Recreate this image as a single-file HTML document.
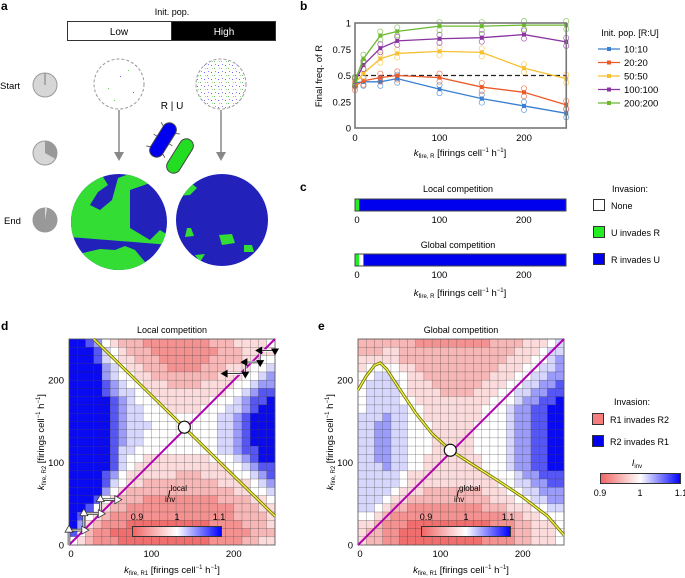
<!DOCTYPE html>
<html><head><meta charset="utf-8"><style>
body{margin:0;background:#fff}
svg{display:block;font-family:"Liberation Sans",Arial,sans-serif}
</style></head><body>
<svg id="fig" width="685" height="578" viewBox="0 0 685 578">
<defs>
<pattern id="dots" width="7" height="7" patternUnits="userSpaceOnUse">
<rect x="1" y="2" width="1" height="1" fill="#66f"/><rect x="4" y="5" width="1" height="1" fill="#6c6"/><rect x="5" y="1" width="1" height="1" fill="#88f"/><rect x="2" y="5" width="1" height="1" fill="#9d9"/>
</pattern>
<clipPath id="cl1"><circle cx="119" cy="222" r="48"/></clipPath>
<clipPath id="cl2"><circle cx="222" cy="220" r="46"/></clipPath>
<linearGradient id="cbar" x1="0" x2="1"><stop offset="0" stop-color="rgb(240,100,100)"/><stop offset="0.5" stop-color="#fff"/><stop offset="1" stop-color="#0000ff"/></linearGradient>
</defs>

<!-- Panel a -->
<g>
<text x="1" y="10" font-size="12" font-weight="bold">a</text>
<text x="172" y="15" font-size="9" text-anchor="middle">Init. pop.</text>
<rect x="67.5" y="21.5" width="104" height="19" fill="#fff" stroke="#333"/>
<rect x="171.5" y="21.5" width="104" height="19" fill="#000" stroke="#333"/>
<text x="119" y="35" font-size="10" text-anchor="middle">Low</text>
<text x="224" y="35" font-size="10" text-anchor="middle" fill="#fff">High</text>
<text x="0" y="89" font-size="9.5">Start</text>
<text x="4" y="224" font-size="9.5">End</text>
<g><circle cx="45" cy="85" r="12" fill="#d6d6d6" stroke="#999"/><line x1="45" y1="85" x2="45" y2="73" stroke="#888" stroke-width="1.2"/></g>
<g><circle cx="45" cy="153" r="12" fill="#d6d6d6" stroke="#999"/><path d="M45 153 L45 141 A12 12 0 0 1 55.4 159 Z" fill="#999"/></g>
<g><circle cx="45" cy="220" r="12" fill="#999" stroke="#999"/><path d="M45 220 L45 208 A12 12 0 0 1 47 208.2 Z" fill="#ddd"/></g>
<circle cx="119" cy="84" r="25" fill="#fff" stroke="#999" stroke-dasharray="3 2"/>
<circle cx="221" cy="84" r="25" fill="url(#dots)" stroke="#999" stroke-dasharray="3 2"/>
<g fill="#6c6"><rect x="108" y="88" width="1" height="1"/><rect x="128" y="70" width="1" height="1"/><rect x="114" y="100" width="1" height="1"/></g>
<g fill="#66f"><rect x="120" y="76" width="1" height="1"/><rect x="133" y="92" width="1" height="1"/></g>
<g stroke="#888" stroke-width="1.5">
<line x1="119" y1="110" x2="119" y2="153"/><line x1="221" y1="110" x2="221" y2="153"/></g>
<path d="M114 152 L124 152 L119 161 Z M216 152 L226 152 L221 161 Z" fill="#888"/>
<text x="172" y="109" font-size="10" text-anchor="middle">R | U</text>
<g transform="translate(163 140) rotate(-58)">
<rect x="-19" y="-7" width="38" height="14" rx="7" fill="#0000ee" stroke="#444"/>
<g stroke="#444" stroke-width="0.8"><line x1="-12" y1="-7" x2="-14" y2="-11"/><line x1="0" y1="-7" x2="0" y2="-11"/><line x1="12" y1="-7" x2="14" y2="-11"/><line x1="-12" y1="7" x2="-14" y2="11"/><line x1="0" y1="7" x2="0" y2="11"/><line x1="12" y1="7" x2="14" y2="11"/></g></g>
<rect x="-19" y="-7" width="38" height="14" rx="7" fill="#22dd22" stroke="#444" transform="translate(180 156) rotate(-58)"/>
<g clip-path="url(#cl1)">
<rect x="60" y="170" width="120" height="110" fill="#2222bb"/>
<path d="M70 175 L100 172 L108 185 L98 192 L90 205 L100 210 L112 200 L118 178 L140 170 L150 183 L130 190 L130 228 L150 240 L160 230 L175 240 L170 245 L70 237 Z" fill="#33dd33"/>
<path d="M70 256 L100 249 L115 250 L125 246 L135 250 L145 262 L160 270 L60 290 Z" fill="#33dd33"/>
</g>
<g clip-path="url(#cl2)">
<rect x="170" y="170" width="110" height="100" fill="#2222bb"/>
<path d="M178 185 L190 182 L197 188 L190 195 L176 196 Z" fill="#33dd33"/>
<path d="M219 235 L232 234 L235 243 L222 245 Z M244 245 L252 245 L254 252 L244 252 Z M187 228 L191 228 L194 236 L185 237 Z M195 255 L205 254 L200 262 Z" fill="#33dd33"/>
</g>
</g>

<!-- Panel b -->
<g id="pb">
<text x="300" y="10" font-size="12" font-weight="bold">b</text>
<text transform="translate(322 76) rotate(-90)" font-size="9.5" text-anchor="middle">Final freq. of R</text>
<text x="460" y="156" font-size="9.5" text-anchor="middle"><tspan font-style="italic">k</tspan><tspan font-size="6" dy="2">fire, R</tspan><tspan dy="-2"> [firings cell</tspan><tspan font-size="6" dy="-4">−1</tspan><tspan dy="4"> h</tspan><tspan font-size="6" dy="-4">−1</tspan><tspan dy="4">]</tspan></text>
<text x="630" y="36" font-size="9" text-anchor="middle">Init. pop. [R:U]</text>
</g>

<!-- Panel c -->
<g id="pc">
<text x="300" y="191" font-size="12" font-weight="bold">c</text>
<text x="458" y="192" font-size="9" text-anchor="middle">Local competition</text>
<text x="458" y="248" font-size="9" text-anchor="middle">Global competition</text>
<text x="460" y="296" font-size="9.5" text-anchor="middle"><tspan font-style="italic">k</tspan><tspan font-size="6" dy="2">fire, R</tspan><tspan dy="-2"> [firings cell</tspan><tspan font-size="6" dy="-4">−1</tspan><tspan dy="4"> h</tspan><tspan font-size="6" dy="-4">−1</tspan><tspan dy="4">]</tspan></text>
<text x="630" y="192" font-size="9" text-anchor="middle">Invasion:</text>
<rect x="593.5" y="199.5" width="11" height="11" fill="#fff" stroke="#333"/>
<text x="611" y="209" font-size="9">None</text>
<rect x="593.5" y="226.5" width="11" height="11" fill="#22ee22" stroke="#333"/>
<text x="611" y="236" font-size="9">U invades R</text>
<rect x="593.5" y="253.5" width="11" height="11" fill="#0000ee" stroke="#333"/>
<text x="611" y="263" font-size="9">R invades U</text>
</g>

<!-- Panel d/e static -->
<text x="1" y="330" font-size="12" font-weight="bold">d</text>
<text x="318" y="330" font-size="12" font-weight="bold">e</text>
<text x="172" y="333" font-size="9" text-anchor="middle">Local competition</text>
<text x="461" y="333" font-size="9" text-anchor="middle">Global competition</text>
<g>
<text x="632" y="405" font-size="9" text-anchor="middle">Invasion:</text>
<rect x="592.5" y="413.5" width="11" height="11" fill="rgb(245,125,125)" stroke="#333"/>
<text x="610" y="423" font-size="9">R1 invades R2</text>
<rect x="592.5" y="435.5" width="11" height="11" fill="#0000ee" stroke="#333"/>
<text x="610" y="445" font-size="9">R2 invades R1</text>
<text x="637" y="466" font-size="9" font-style="italic" text-anchor="middle">I<tspan font-size="6" font-style="normal" dy="2">inv</tspan></text>
<rect x="600.5" y="473.5" width="80" height="10" fill="url(#cbar)" stroke="#333"/>
<text x="600" y="496" font-size="9" text-anchor="middle">0.9</text>
<text x="640" y="496" font-size="9" text-anchor="middle">1</text>
<text x="681" y="496" font-size="9" text-anchor="middle">1.1</text>
</g>
</svg>
<script>
const NS="http://www.w3.org/2000/svg";
const svg=document.getElementById('fig');
// ---- Panel b data ----
const bX=[0,10,30,50,100,150,200,250];
const bSeries=["10:10","20:20","50:50","100:100","200:200"];
const bColors=["#3a7fd0","#ea5a2a","#f6c030","#8a34a0","#6cb830"];
const b1010=[0.43,0.44,0.44,0.47,0.37,0.28,0.21,0.14];
const b2020=[0.40,0.45,0.48,0.50,0.48,0.39,0.34,0.22];
const b5050=[0.43,0.52,0.66,0.71,0.73,0.72,0.57,0.47];
const b100100=[0.44,0.60,0.76,0.83,0.85,0.86,0.89,0.82];
const b200200=[0.45,0.66,0.88,0.92,0.97,0.97,0.98,0.98];
const bYTicks=[0,0.25,0.5,0.75,1];
const bYTickLabels=["0","0.25","0.5","0.75","1"];
const bXTicks=[0,100,200];
// ---- Panel c data ----
const cCategories=["U invades R","None","R invades U"];
const cLocal=[[0,5,0],[5,250,2]];   // [start,end,category]
const cGlobal=[[0,5,0],[5,10,1],[10,250,2]];
// ---- Heatmap data (levels 0..8 -> 0.9..1.1), rows top (k=245) to bottom (k=5) ----
const dRows=["8876432221111111122233334","8887543222111111112223333","8887543322211111122223344","8888654332221111222333445","8888654433222222223334456","8888765443332222333344566","8888765544333333333445677","8888876544433333344456778","8888876554443333444556788","8888876554444444445567888","8888876555444444445567888","8888876554444444445567888","8888876554444444445567888","8888875544444444445567788","8888875443333333344456788","8888875433333333333445677","8888764333333222333344567","8888754332222222223333456","8888643222222222222233445","8887432221111111112222334","8874322111111111111122233","8743211111111111111122223","8632111000000000011112223","7421100000000000001111222","4321110000000000011112233"];
const eRows=["2222222111111111222233345","2223322222222222222333455","3333322222222222223334456","3444433222222222233344556","4455443322222222333445566","4555543332222223334455667","4555543333222233344556677","4555544333333333444566778","4555554433333334445667788","5556554433333334445667788","5566554443333344445667788","5566554443333344445667788","5566554443333344445667788","5566554443333344445667788","5566554433333334445667788","5556554433333334445667788","5555543333333333444566777","5555543333333333344556677","5555433322222223334455666","5554332222222222333445566","5543221111111112223334455","4432111111111111112233444","3321110000000000111223334","3221100000000001111223334","3221100000000001111223334"];
const eCurveX=[0,10,20,27,35,50,70,90,112,140,170,200,230,250];
const eCurveY=[188,205,218,221,213,190,160,135,115,97,78,58,35,12];
const dLineX=[30,250], dLineY=[250,35];
const dEss=[140,143], eEss=[112,115];
const hmTicks=[0,100,200];

function mk(tag,attrs,parent){const e=document.createElementNS(NS,tag);for(const k in attrs)e.setAttribute(k,attrs[k]);(parent||svg).appendChild(e);return e;}

// ---- draw b ----
const bx=v=>355+v*0.845, by=v=>128-v*105;
const gb=mk('g',{});


bYTicks.forEach((t,i)=>{const tx=mk('text',{x:351,y:by(t)+3.5,'font-size':9.5,'text-anchor':'end'},gb);tx.textContent=bYTickLabels[i];

});
bXTicks.forEach(t=>{const tx=mk('text',{x:bx(t),y:141,'font-size':9.5,'text-anchor':'middle'},gb);tx.textContent=t;

});
const dash=mk('line',{x1:bx(0),x2:bx(250),y1:by(0.5),y2:by(0.5),stroke:'#222','stroke-dasharray':'5 3','stroke-width':1.2},gb);


[b1010,b2020,b5050,b100100,b200200].forEach((vals,si)=>{
  const pts=vals.map((v,i)=>bx(bX[i])+','+by(v)).join(' ');
  const pl=mk('polyline',{points:pts,fill:'none',stroke:bColors[si],'stroke-width':1.3},gb);
  
  
  vals.forEach((v,i)=>{
    mk('circle',{cx:bx(bX[i]),cy:by(v)+4,r:2.6,fill:'none',stroke:bColors[si],'stroke-width':0.7,opacity:0.8},gb);
    mk('circle',{cx:bx(bX[i]),cy:by(v)-4,r:2.6,fill:'none',stroke:bColors[si],'stroke-width':0.7,opacity:0.8},gb);
    const p=mk('rect',{x:bx(bX[i])-2,y:by(v)-2,width:4,height:4,fill:bColors[si]},gb);
    
    
  });
  const ly=49+si*13.5;
  const le=mk('g',{},gb);
  
  
  mk('line',{x1:598,x2:620,y1:ly,y2:ly,stroke:bColors[si],'stroke-width':1.3},le);
  mk('rect',{x:607,y:ly-2,width:4,height:4,fill:bColors[si]},le);
  const t=mk('text',{x:624,y:ly+3.5,'font-size':9.5},le);t.textContent=bSeries[si];
});
const frame=mk('rect',{x:355,y:by(1),width:bx(250)-355,height:by(0)-by(1),fill:'none',stroke:'#777','stroke-width':1.6},gb);



// ---- draw c ----
const cColors=["#22ee22","#ffffff","#0000ee"];
const cx=v=>355+v*0.844;
function cbar(segs,y0,name){
  const g=mk('g',{});
  
  
  segs.forEach(s=>{const r=mk('rect',{x:cx(s[0]),y:y0,width:cx(s[1])-cx(s[0]),height:12,fill:cColors[s[2]]},g);
    
    });
  mk('rect',{x:cx(0),y:y0,width:cx(250)-cx(0),height:12,fill:'none',stroke:'#444','stroke-width':1},g);
  hmTicks.forEach(t=>{const tx=mk('text',{x:cx(t)+(t===0?2:0),y:y0+24,'font-size':9.5,'text-anchor':'middle'},g);tx.textContent=t;});
}
cbar(cLocal,199,'c-local-bar');
cbar(cGlobal,254,'c-global-bar');

// ---- heatmaps ----
function color(v){
  if(v<=1){const f=(1-v)/0.1;return `rgb(${Math.round(255-15*f)},${Math.round(255-145*f)},${Math.round(255-145*f)})`;}
  const f=Math.pow((v-1)/0.1,1.3);return `rgb(${Math.round(255-245*f)},${Math.round(255-245*f)},${Math.round(255-15*f)})`;
}
function heat(rows,x0,name,label,lineFn,ess,arrows){
  const sx=v=>x0+v*0.824, sy=v=>545-v*0.824;
  const g=mk('g',{});
  
  
  rows.forEach((row,ri)=>{
    const kY=250-ri*10;
    for(let ci=0;ci<row.length;ci++){
      const v=0.9+(+row[ci])*0.025;
      const c=mk('rect',{x:sx(ci*10),y:sy(kY),width:sx(10)-sx(0)+0.05,height:sy(0)-sy(10)+0.05,fill:color(v),stroke:'rgba(50,50,50,0.4)','stroke-width':0.5},g);
      
      
    }
  });
  mk('rect',{x:sx(0),y:sy(250),width:sx(250)-sx(0),height:sy(0)-sy(250),fill:'none',stroke:'#555','stroke-width':0.8},g);
  hmTicks.forEach(t=>{
    const a=mk('text',{x:sx(t)+(t===0?2:0),y:557,'font-size':9.5,'text-anchor':'middle'},g);a.textContent=t;
    
    
    const b=mk('text',{x:x0-5,y:sy(t)+3.5,'font-size':9.5,'text-anchor':'end'},g);b.textContent=t;
    
    
  });
  const pts=lineFn(sx,sy);
  mk('polyline',{points:pts,fill:'none',stroke:'#6a6a10','stroke-width':3},g);
  const yl=mk('polyline',{points:pts,fill:'none',stroke:'#f0f040','stroke-width':1.4},g);
  
  
  const dg=mk('line',{x1:sx(0),y1:sy(0),x2:sx(250),y2:sy(250),stroke:'#b000b0','stroke-width':2},g);
  
  
  if(arrows) arrows(g,sx,sy);
  const ec=mk('circle',{cx:sx(ess[0]),cy:sy(ess[1]),r:6,fill:'#fff',stroke:'#111','stroke-width':1.2},g);
  
  
  const cbx=x0+63;
  const cb=mk('rect',{x:cbx+0.5,y:526.5,width:89,height:10,fill:'url(#cbar)',stroke:'#333'},g);
  
  
  [['0.9',cbx+5],['1',cbx+45],['1.1',cbx+87]].forEach(p=>{const t=mk('text',{x:p[1],y:520,'font-size':9,'text-anchor':'middle'},g);t.textContent=p[0];});
  const lb=mk('text',{x:x0+96,y:497,'font-size':10.5,'font-style':'italic'},g);
  lb.innerHTML='I<tspan font-size="8" font-style="normal" dy="-6">'+label+'</tspan><tspan font-size="8" font-style="normal" dx="-'+(label.length*4.4)+'" dy="11">inv</tspan>';
  
  
  const xt=mk('text',{x:x0+103,y:573,'font-size':9.5,'text-anchor':'middle'},g);
  xt.innerHTML='<tspan font-style="italic">k</tspan><tspan font-size="6" dy="2">fire, R1</tspan><tspan dy="-2"> [firings cell</tspan><tspan font-size="6" dy="-4">−1</tspan><tspan dy="4"> h</tspan><tspan font-size="6" dy="-4">−1</tspan><tspan dy="4">]</tspan>';
  
  
  const yt=mk('text',{transform:`translate(${x0-25} 442) rotate(-90)`,'font-size':9.5,'text-anchor':'middle'},g);
  yt.innerHTML='<tspan font-style="italic">k</tspan><tspan font-size="6" dy="2">fire, R2</tspan><tspan dy="-2"> [firings cell</tspan><tspan font-size="6" dy="-4">−1</tspan><tspan dy="4"> h</tspan><tspan font-size="6" dy="-4">−1</tspan><tspan dy="4">]</tspan>';
  
  
}
heat(dRows,69,'heatmap-local','local',(sx,sy)=>dLineX.map((x,i)=>sx(x)+','+sy(dLineY[i])).join(' '),dEss,(g,sx,sy)=>{
  const wp=[[0,0],[0,18],[18,18],[18,38],[38,38],[38,55],[58,55]];
  mk('polyline',{points:wp.map(p=>sx(p[0])+','+sy(p[1])).join(' '),fill:'none',stroke:'#333','stroke-width':2.6},g);
  mk('polyline',{points:wp.map(p=>sx(p[0])+','+sy(p[1])).join(' '),fill:'none',stroke:'#fff','stroke-width':1},g);
  [[0,18,'u'],[18,18,'r'],[18,38,'u'],[38,38,'r'],[38,55,'u'],[58,55,'r']].forEach(a=>{
    const X=sx(a[0]),Y=sy(a[1]);
    const d=a[2]==='u'?`M${X-4} ${Y+2} L${X+4} ${Y+2} L${X} ${Y-5} Z`:`M${X-2} ${Y-4} L${X-2} ${Y+4} L${X+5} ${Y} Z`;
    const t=mk('path',{d:d,fill:'#fff',stroke:'#333','stroke-width':0.8},g);
    
    
  });
  const bp=[[250,240],[250,236],[232,236],[232,222],[214,222],[214,208],[190,208]];
  mk('polyline',{points:bp.map(p=>sx(p[0])+','+sy(p[1])).join(' '),fill:'none',stroke:'#fff','stroke-width':2.4},g);
  mk('polyline',{points:bp.map(p=>sx(p[0])+','+sy(p[1])).join(' '),fill:'none',stroke:'#222','stroke-width':0.9},g);
  [[250,236,'d'],[232,236,'l'],[232,222,'d'],[214,222,'l'],[214,208,'d'],[190,208,'l']].forEach(a=>{
    const X=sx(a[0]),Y=sy(a[1]);
    const d=a[2]==='d'?`M${X-4} ${Y-2} L${X+4} ${Y-2} L${X} ${Y+5} Z`:`M${X+2} ${Y-4} L${X+2} ${Y+4} L${X-5} ${Y} Z`;
    const t=mk('path',{d:d,fill:'#000'},g);
    
    
  });
});
heat(eRows,358,'heatmap-global','global',(sx,sy)=>eCurveX.map((x,i)=>sx(x)+','+sy(eCurveY[i])).join(' '),eEss,null);
</script>
</body></html>
